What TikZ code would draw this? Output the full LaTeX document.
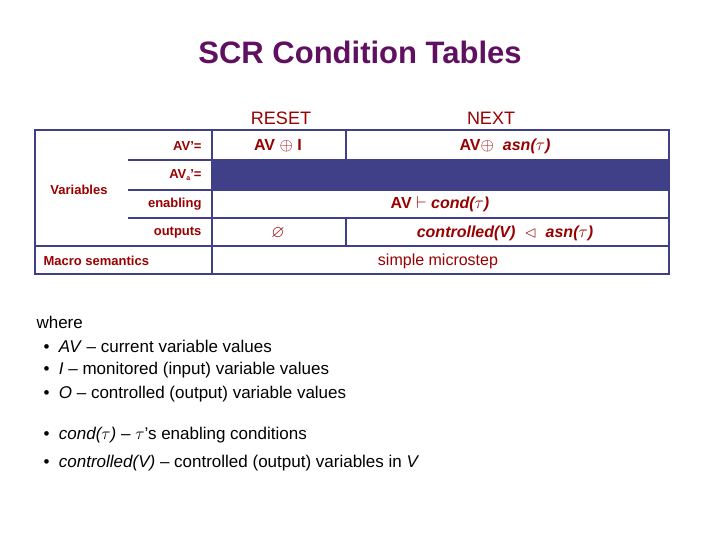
\documentclass[tikz,border=0pt]{standalone}
\usepackage{fontspec}
\setmainfont{Liberation Sans}
\usepackage{amssymb}
\begin{document}
\begin{tikzpicture}[x=1pt,y=-1pt,
 lab/.style={text=red!60!black,font=\fontsize{13}{15}\selectfont\bfseries},
 cell/.style={text=red!60!black,font=\fontsize{16}{18}\selectfont\bfseries},
 hd/.style={text=red!60!black,font=\fontsize{18}{20}\selectfont},
 body/.style={anchor=west,font=\fontsize{17}{20}\selectfont},
 ln/.style={draw=navy,line width=1.3pt}]
\definecolor{navy}{RGB}{64,64,136}
\definecolor{ttl}{RGB}{96,16,96}
\useasboundingbox (0,0) rectangle (720,540);
\node[font=\fontsize{31}{36}\selectfont\bfseries,text=ttl] (title) at (360,52) {SCR Condition Tables};
\node[hd] (reset) at (281,118) {RESET};
\node[hd] (next) at (491,118) {NEXT};
\fill[navy] (212,160) rectangle (669,190);
\draw[ln] (35,130) rectangle (669,274);
\draw[ln] (212,130) -- (212,274);
\draw[ln] (346,130) -- (346,160);
\draw[ln] (346,218) -- (346,246);
\draw[ln] (128,160) -- (669,160);
\draw[ln] (128,190) -- (669,190);
\draw[ln] (128,218) -- (669,218);
\draw[ln] (35,246) -- (669,246);
\node[lab,anchor=east] (l1) at (205,146) {AV’=};
\node[lab,anchor=east] (l2) at (205,175) {AV\raisebox{-2pt}{\fontsize{7}{7}\selectfont a}’=};
\node[lab,anchor=east] (l3) at (205,204) {enabling};
\node[lab,anchor=east] (l4) at (205,233) {outputs};
\node[lab,anchor=west] (l5) at (40,261) {Macro semantics};
\node[lab] (var) at (79,190) {Variables};
\node[cell] (c1) at (278,146) {AV $\oplus$ \textrm{I}};
\node[cell] (c2) at (505,146) {AV$\oplus$\ \ \textit{asn($\tau$)}};
\node[cell] (c3) at (440,204) {AV $\vdash$ \textit{cond($\tau$)}};
\node[cell,font=\fontsize{17}{18}\selectfont] (c4) at (278,233) {$\varnothing$};
\node[cell] (c5) at (505,233) {\textit{controlled(V)}\ \ $\lhd$\ \ \textit{asn($\tau$)}};
\node[cell,font=\fontsize{16}{18}\selectfont] (c6) at (438,261) {simple microstep};
\node[body] (w) at (33,322) {where};
\node[body] (b1) at (40,346) {\textbullet\ \ \textit{AV} -- current variable values};
\node[body] (b2) at (40,370) {\textbullet\ \ \textit{I} -- monitored (input) variable values};
\node[body] (b3) at (40,394) {\textbullet\ \ \textit{O} -- controlled (output) variable values};
\node[body] (b4) at (40,435) {\textbullet\ \ \textit{cond($\tau$)} -- $\tau$’s enabling conditions};
\node[body] (b5) at (40,463) {\textbullet\ \ \textit{controlled(V)} -- controlled (output) variables in \textit{V}};
\end{tikzpicture}
\end{document}
